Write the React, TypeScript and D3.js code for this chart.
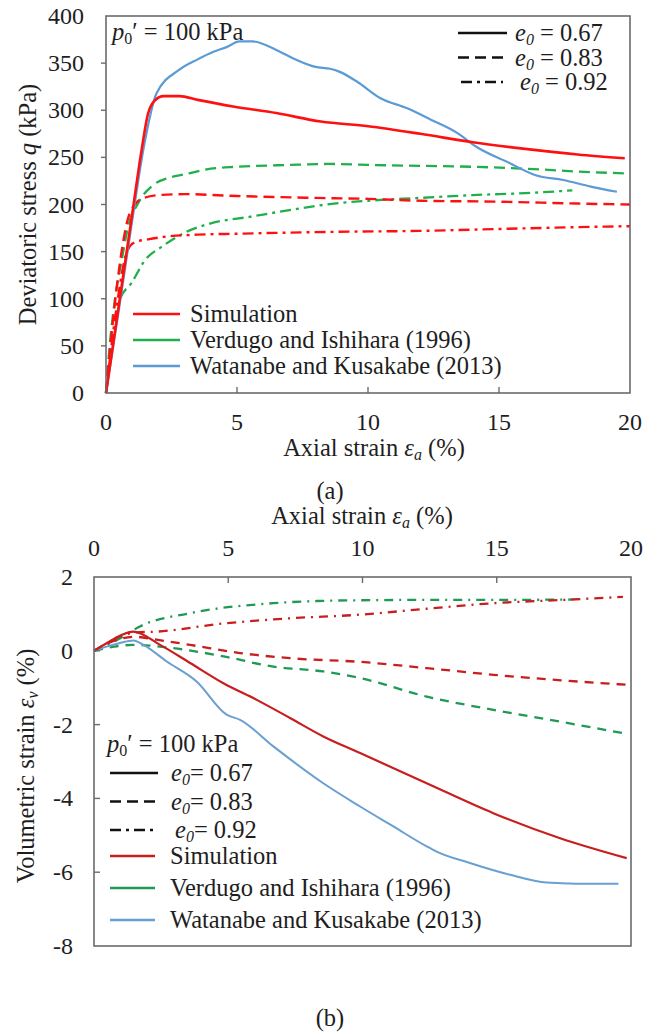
import React from "react";
import * as d3 from "d3";

// ---------- Data: (a) deviatoric stress q (kPa) vs axial strain (%) ----------
const qSim067: [number, number][] = [[0,0],[0.5,95],[1.0,190],[1.36,258],[1.6,296],[1.85,310],[2.2,315],[2.8,315],[3.5,311],[4.85,304],[6.5,297],[8.2,288],[10,283],[12,275],[14,266],[16,259],[18,253],[19.8,249]];
const qSim083: [number, number][] = [[0,0],[0.4,110],[0.84,185],[1.1,200],[1.36,206],[2,210],[3,211],[5,209],[8,207],[10,206],[12,204],[15,203],[18,201],[20,200]];
const qSim092: [number, number][] = [[0,0],[0.4,90],[0.8,150],[1.1,160],[1.6,163],[2.3,166],[3.5,168],[5,169],[8.7,171],[12,172],[15,174],[18,176],[20,177]];
const qVer083: [number, number][] = [[0,0],[0.15,53],[0.34,99],[0.6,141],[0.84,176],[1.22,201],[1.87,222],[2.37,228],[3,232],[4,238],[5,240],[7,242],[8.5,243],[10,242],[12,241],[14,240],[16,238],[18,235],[19.8,233]];
const qVer092: [number, number][] = [[0,0],[0.3,60],[0.53,99],[0.98,117],[1.49,141],[2.12,155],[3.0,170],[4.0,180],[5.5,187],[7,194],[8.7,201],[10,204],[12,207],[14,210],[16,212],[17.8,215]];
const qWat067: [number, number][] = [[0,0],[0.5,90],[1.0,183],[1.45,262],[1.93,318],[2.8,343],[3.5,354],[4.1,362],[4.6,367],[5.1,373],[5.6,373],[6.5,364],[7.15,355],[8.0,346],[8.55,344],[8.9,341],[9.6,330],[10.46,313],[11.5,302],[12.4,290],[13.4,276],[14.15,261],[15.4,244],[16.4,231],[17.45,226],[18.5,219],[19.5,213.5]];

// ---------- Data: (b) volumetric strain (%) vs axial strain (%) ----------
const vSim067: [number, number][] = [[0,0],[0.5,0.22],[1.0,0.42],[1.46,0.52],[2.46,0.16],[3.58,-0.33],[4.82,-0.88],[6.06,-1.33],[7.3,-1.82],[8.54,-2.32],[9.91,-2.77],[12.39,-3.59],[14.87,-4.4],[17.36,-5.08],[19.84,-5.62]];
const vSim083: [number, number][] = [[0,0],[0.5,0.2],[1.0,0.33],[1.5,0.38],[2.33,0.3],[3.58,0.16],[5.44,-0.06],[7.3,-0.2],[9.91,-0.3],[12.4,-0.47],[14.87,-0.65],[17.4,-0.8],[19.84,-0.92]];
const vSim092: [number, number][] = [[0,0],[0.5,0.2],[1.0,0.4],[1.6,0.5],[2.33,0.52],[4.82,0.74],[7.3,0.88],[9.91,0.98],[12.39,1.14],[14.87,1.29],[17.5,1.38],[19.7,1.46]];
const vVer083: [number, number][] = [[0,0],[0.5,0.08],[1.46,0.16],[2.95,0.07],[4.82,-0.15],[6.68,-0.43],[8.54,-0.56],[9.91,-0.74],[12.39,-1.24],[14.87,-1.6],[17.36,-1.92],[19.7,-2.23]];
const vVer092: [number, number][] = [[0,0],[0.5,0.15],[1.0,0.35],[1.71,0.66],[3.58,1.02],[6.68,1.29],[8.3,1.35],[10,1.37],[12.5,1.38],[15,1.38],[17.8,1.39]];
const vWat067: [number, number][] = [[0,0],[0.5,0.12],[1.0,0.22],[1.46,0.28],[1.84,0.16],[2.71,-0.29],[3.82,-0.83],[4.94,-1.73],[5.44,-1.87],[6.68,-2.59],[8.54,-3.59],[9.91,-4.22],[11.15,-4.76],[12.39,-5.3],[12.76,-5.44],[14.0,-5.75],[15.5,-6.07],[16.86,-6.28],[17.98,-6.31],[19.53,-6.31]];

const xTicks = [0, 5, 10, 15, 20];
const qTicks = [0, 50, 100, 150, 200, 250, 300, 350, 400];
const vTicks = [2, 0, -2, -4, -6, -8];
const e0Labels = ["0.67", "0.83", "0.92"];
const sourceLabels = ["Simulation", "Verdugo and Ishihara  (1996)", "Watanabe and Kusakabe (2013)"];
const sourceLabelsB = ["Simulation", "Verdugo and Ishihara (1996)", "Watanabe and Kusakabe (2013)"];

const FONT = "'Liberation Serif', 'Times New Roman', serif";
const FS = 24.5;
const TFS = 24;
const AXC = "#6b6b6b";
const TXT = "#1e1e1e";

const colA = { red: "#ff1010", green: "#1fb04b", blue: "#5b9bd5" };
const colB = { red: "#c81e1e", green: "#1f9a55", blue: "#6a9fd2" };

const dashA = ["none", "11,6", "11,5,3,5"];
const dashB = ["none", "9,7", "9,6,2,6"];

function E0({ v, gap }: { v: string; gap: boolean }) {
  return (
    <>
      <tspan fontStyle="italic">e</tspan>
      <tspan fontStyle="italic" fontSize={16} dy={4}>0</tspan>
      <tspan dy={-4}>{gap ? " = " : "= "}{v}</tspan>
    </>
  );
}

function P0() {
  return (
    <>
      <tspan fontStyle="italic">p</tspan>
      <tspan fontSize={16} dy={4}>0</tspan>
      <tspan dy={-4}>{"′ = 100 kPa"}</tspan>
    </>
  );
}

function AxialLabel({ x, y }: { x: number; y: number }) {
  return (
    <text x={x} y={y} textAnchor="middle" fontFamily={FONT} fontSize={FS} fill={TXT}>
      Axial strain <tspan fontStyle="italic">ε</tspan>
      <tspan fontStyle="italic" fontSize={16} dy={4}>a</tspan>
      <tspan dy={-4}> (%)</tspan>
    </text>
  );
}

export default function App() {
  // Panel (a)
  const xa = d3.scaleLinear().domain([0, 20]).range([106, 630]);
  const ya = d3.scaleLinear().domain([0, 400]).range([393, 16]);
  const la = d3.line<[number, number]>().x(d => xa(d[0])).y(d => ya(d[1])).curve(d3.curveMonotoneX);

  // Panel (b)
  const xb = d3.scaleLinear().domain([0, 20]).range([94, 631]);
  const yb = d3.scaleLinear().domain([-8, 2]).range([946, 577]);
  const lb = d3.line<[number, number]>().x(d => xb(d[0])).y(d => yb(d[1])).curve(d3.curveMonotoneX);

  const seriesA = [
    { d: qVer083, c: colA.green, dash: dashA[1], w: 2.3 },
    { d: qVer092, c: colA.green, dash: dashA[2], w: 2.3 },
    { d: qSim083, c: colA.red, dash: dashA[1], w: 2.4 },
    { d: qSim092, c: colA.red, dash: dashA[2], w: 2.4 },
    { d: qWat067, c: colA.blue, dash: dashA[0], w: 2.2 },
    { d: qSim067, c: colA.red, dash: dashA[0], w: 2.6 },
  ];
  const seriesB = [
    { d: vVer083, c: colB.green, dash: dashB[1], w: 2.3 },
    { d: vVer092, c: colB.green, dash: dashB[2], w: 2.3 },
    { d: vSim083, c: colB.red, dash: dashB[1], w: 2.3 },
    { d: vSim092, c: colB.red, dash: dashB[2], w: 2.3 },
    { d: vWat067, c: colB.blue, dash: dashB[0], w: 2.0 },
    { d: vSim067, c: colB.red, dash: dashB[0], w: 2.2 },
  ];

  const [ax0, ax1] = xa.range();
  const [ay1, ay0] = [ya(0), ya(400)];
  const [bx0, bx1] = xb.range();
  const [by1, by0] = [yb(-8), yb(2)];

  const srcColA = [colA.red, colA.green, colA.blue];
  const srcColB = [colB.red, colB.green, colB.blue];

  return (
    <svg width={660} height={1032} style={{ position: "absolute", left: 0, top: 0, background: "#fff" }}>
      <rect width={660} height={1032} fill="#fff" />
      {/* ===== Panel (a) ===== */}
      <g>
        {seriesA.map((s, i) => (
          <path key={i} d={la(s.d) || ""} fill="none" stroke={s.c} strokeWidth={s.w} strokeDasharray={s.dash} strokeLinejoin="round" />
        ))}
        <rect x={ax0} y={ay0} width={ax1 - ax0} height={ay1 - ay0} fill="none" stroke={AXC} strokeWidth={1.6} />
        {xTicks.slice(1, -1).map(t => (
          <line key={t} x1={xa(t)} x2={xa(t)} y1={ay1} y2={ay1 - 6} stroke={AXC} strokeWidth={1.4} />
        ))}
        {qTicks.slice(1, -1).map(t => (
          <line key={t} x1={ax0 - 5} x2={ax0} y1={ya(t)} y2={ya(t)} stroke={AXC} strokeWidth={1.4} />
        ))}
        {xTicks.map(t => (
          <text key={t} x={xa(t)} y={430} textAnchor="middle" fontFamily={FONT} fontSize={TFS} fill={TXT}>{t}</text>
        ))}
        {qTicks.map(t => (
          <text key={t} x={84} y={ya(t) + 8} textAnchor="end" fontFamily={FONT} fontSize={TFS} fill={TXT}>{t}</text>
        ))}
        <AxialLabel x={374} y={456} />
        <text transform={`translate(36,${(ay0 + ay1) / 2}) rotate(-90)`} textAnchor="middle" fontFamily={FONT} fontSize={FS} fill={TXT}>
          Deviatoric stress <tspan fontStyle="italic">q</tspan> (kPa)
        </text>
        <text x={112} y={40} fontFamily={FONT} fontSize={FS} fill={TXT}><P0 /></text>
        {e0Labels.map((v, i) => (
          <g key={v}>
            <line x1={i === 2 ? 461 : 458} x2={i === 2 ? 503 : 507} y1={33 + i * 24.5} y2={33 + i * 24.5} stroke="#111" strokeWidth={2.6} strokeDasharray={dashA[i]} />
            <text x={i === 2 ? 520 : 515} y={41 + i * 24.5} fontFamily={FONT} fontSize={FS} fill={TXT}><E0 v={v} gap={true} /></text>
          </g>
        ))}
        {sourceLabels.map((s, i) => (
          <g key={s}>
            <line x1={133} x2={180} y1={314 + i * 26} y2={314 + i * 26} stroke={srcColA[i]} strokeWidth={2.6} />
            <text x={190} y={322 + i * 26} fontFamily={FONT} fontSize={FS} fill={TXT}>{s}</text>
          </g>
        ))}
        <text x={330} y={499} textAnchor="middle" fontFamily={FONT} fontSize={FS} fill={TXT}>(a)</text>
      </g>

      {/* ===== Panel (b) ===== */}
      <g>
        {seriesB.map((s, i) => (
          <path key={i} d={lb(s.d) || ""} fill="none" stroke={s.c} strokeWidth={s.w} strokeDasharray={s.dash} strokeLinejoin="round" />
        ))}
        <rect x={bx0} y={by0} width={bx1 - bx0} height={by1 - by0} fill="none" stroke={AXC} strokeWidth={1.6} />
        {xTicks.slice(1, -1).map(t => (
          <line key={t} x1={xb(t)} x2={xb(t)} y1={by0} y2={by0 + 6} stroke={AXC} strokeWidth={1.4} />
        ))}
        {vTicks.slice(1, -1).map(t => (
          <line key={t} x1={bx0} x2={bx0 + 6} y1={yb(t)} y2={yb(t)} stroke={AXC} strokeWidth={1.4} />
        ))}
        {xTicks.map(t => (
          <text key={t} x={xb(t)} y={556} textAnchor="middle" fontFamily={FONT} fontSize={TFS} fill={TXT}>{t}</text>
        ))}
        {vTicks.map(t => (
          <text key={t} x={73} y={yb(t) + 8} textAnchor="end" fontFamily={FONT} fontSize={TFS} fill={TXT}>{t}</text>
        ))}
        <AxialLabel x={362} y={524} />
        <text transform={`translate(34,766) rotate(-90)`} textAnchor="middle" fontFamily={FONT} fontSize={FS} fill={TXT}>
          Volumetric strain <tspan fontStyle="italic">ε</tspan>
          <tspan fontStyle="italic" fontSize={16} dy={4}>v</tspan>
          <tspan dy={-4}> (%)</tspan>
        </text>
        <text x={107} y={752} fontFamily={FONT} fontSize={FS} fill={TXT}><P0 /></text>
        {e0Labels.map((v, i) => (
          <g key={v}>
            <line x1={110} x2={158} y1={773 + i * 28.5} y2={773 + i * 28.5} stroke="#111" strokeWidth={2.6} strokeDasharray={dashA[i]} />
            <text x={i === 2 ? 175 : 171} y={781 + i * 28.5} fontFamily={FONT} fontSize={FS} fill={TXT}><E0 v={v} gap={false} /></text>
          </g>
        ))}
        {sourceLabelsB.map((s, i) => (
          <g key={s}>
            <line x1={110} x2={155} y1={856 + i * 32} y2={856 + i * 32} stroke={srcColB[i]} strokeWidth={2.6} />
            <text x={170} y={864 + i * 32} fontFamily={FONT} fontSize={FS} fill={TXT}>{s}</text>
          </g>
        ))}
        <text x={330} y={1026} textAnchor="middle" fontFamily={FONT} fontSize={FS} fill={TXT}>(b)</text>
      </g>
    </svg>
  );
}
